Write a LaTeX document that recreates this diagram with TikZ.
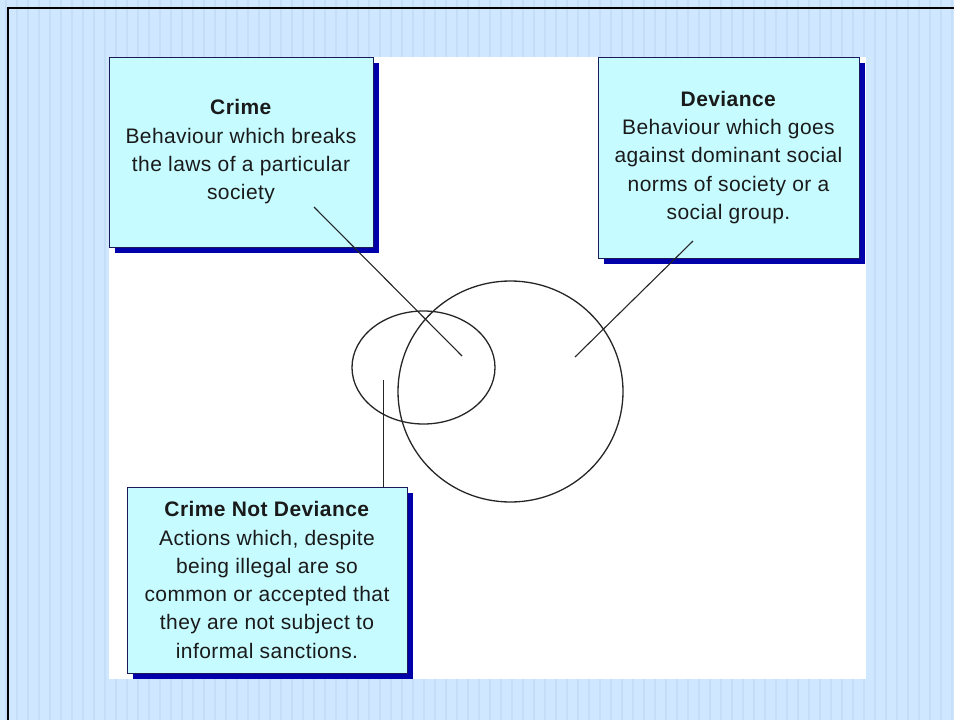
\documentclass[tikz,border=0pt]{standalone}
\usepackage{fontspec}
\setmainfont[LetterSpace=2]{Liberation Sans}
\usetikzlibrary{shapes.geometric,shadows}
\definecolor{bgblue}{HTML}{D0E8FF}
\definecolor{stripeblue}{HTML}{C4DEF8}
\definecolor{boxfill}{HTML}{C6FBFF}
\definecolor{boxline}{HTML}{1A1A5A}
\definecolor{shadowblue}{HTML}{0000AA}
\definecolor{txt}{HTML}{1A1A1A}
\tikzset{
  infobox/.style={draw=boxline, line width=0.9pt, fill=boxfill, inner sep=0pt,
    align=center, text=txt, font=\fontsize{21}{28.3}\selectfont,
    drop shadow={shadow xshift=6pt, shadow yshift=-6pt, fill=shadowblue, opacity=1}},
  pointer/.style={draw=black!85, line width=1.1pt},
  ring/.style={draw=black!85, line width=1.3pt, ellipse, inner sep=0pt}
}
\begin{document}
\begin{tikzpicture}[x=1pt,y=-1pt]
\useasboundingbox (0,0) rectangle (954,720);
\fill[bgblue] (0,0) rectangle (954,720);
\foreach \i in {0,...,86} {
  \fill[stripeblue] ({5+11*\i},0) rectangle ({7+11*\i},720);
}
\draw[black, line width=2.4pt] (8,720) -- (8,8) -- (954,8);
\fill[white] (109,57) rectangle (866,679);

% circles
\node[ring, minimum width=143pt, minimum height=113pt] (crimeset) at (423.5,367.5) {};
\node[ring, minimum width=225pt, minimum height=221pt] (devset) at (510.5,391.5) {};

% boxes
\node[infobox, minimum width=264pt, minimum height=190pt] (crime) at (241,152)
  {\textbf{Crime}\\Behaviour which breaks\\the laws of a particular\\society};
\node[infobox, minimum width=261pt, minimum height=201pt] (deviance) at (728.5,157.5)
  {\textbf{Deviance}\\Behaviour which goes\\against dominant social\\norms of society or a\\social group.};
\node[infobox, minimum width=280pt, minimum height=186pt] (cnd) at (267,580)
  {\textbf{Crime Not Deviance}\\Actions which, despite\\being illegal are so\\common or accepted that\\they are not subject to\\informal sanctions.};

% pointer ends
\coordinate (c1) at (314,207);
\coordinate (c2) at (462,356);
\coordinate (d1) at (693,241);
\coordinate (d2) at (575,357);
\coordinate (n2) at (383.5,380);
\draw[pointer] (c1) -- (c2);
\draw[pointer] (d1) -- (d2);
\draw[pointer] (cnd.north -| n2) -- (n2);
\end{tikzpicture}
\end{document}
